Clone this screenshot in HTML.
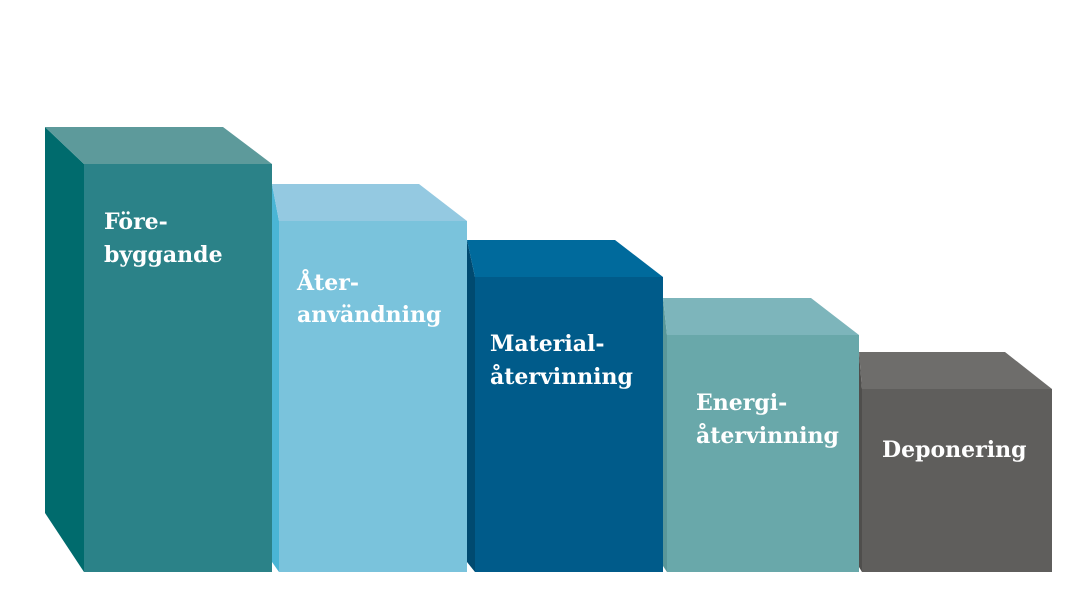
<!DOCTYPE html>
<html><head><meta charset="utf-8"><style>
html,body{margin:0;padding:0;background:#fff;}
svg{display:block}
text{font-family:"DejaVu Serif","Liberation Serif",serif;font-weight:bold;font-size:22px;fill:#fff;}
</style></head><body>
<svg width="1092" height="603" viewBox="0 0 1092 603" xmlns="http://www.w3.org/2000/svg">
<rect width="1092" height="603" fill="#fff"/>
<polygon points="45,127 84,164 84,572 45,513" fill="#006b6d"/>
<polygon points="45,127 223,127 272,164 84,164" fill="#5d9a9b"/>
<rect x="84" y="164" width="188" height="408" fill="#2b8288"/>
<polygon points="272,184 279,221 279,572 272,562" fill="#4ab5d5"/>
<polygon points="272,184 419,184 467,221 279,221" fill="#94c9e1"/>
<rect x="279" y="221" width="188" height="351" fill="#7ac3dc"/>
<polygon points="467,240 475,277 475,572 467,562" fill="#004a70"/>
<polygon points="467,240 615,240 663,277 475,277" fill="#006a9c"/>
<rect x="475" y="277" width="188" height="295" fill="#005b8a"/>
<polygon points="663,298 667,335 667,572 663,566" fill="#5a9799"/>
<polygon points="663,298 811,298 859,335 667,335" fill="#7db5bb"/>
<rect x="667" y="335" width="192" height="237" fill="#69a8aa"/>
<polygon points="859,352 862,389 862,572 859,567" fill="#4f4e4c"/>
<polygon points="859,352 1005,352 1052,389 862,389" fill="#6e6d6b"/>
<rect x="862" y="389" width="190" height="183" fill="#5f5e5c"/>
<text x="104" y="229">Före-</text>
<text x="104" y="262">byggande</text>
<text x="297" y="290">Åter-</text>
<text x="297" y="322">användning</text>
<text x="490" y="351">Material-</text>
<text x="490" y="384">återvinning</text>
<text x="696" y="410">Energi-</text>
<text x="696" y="443">återvinning</text>
<text x="882" y="457">Deponering</text>
</svg>
</body></html>
